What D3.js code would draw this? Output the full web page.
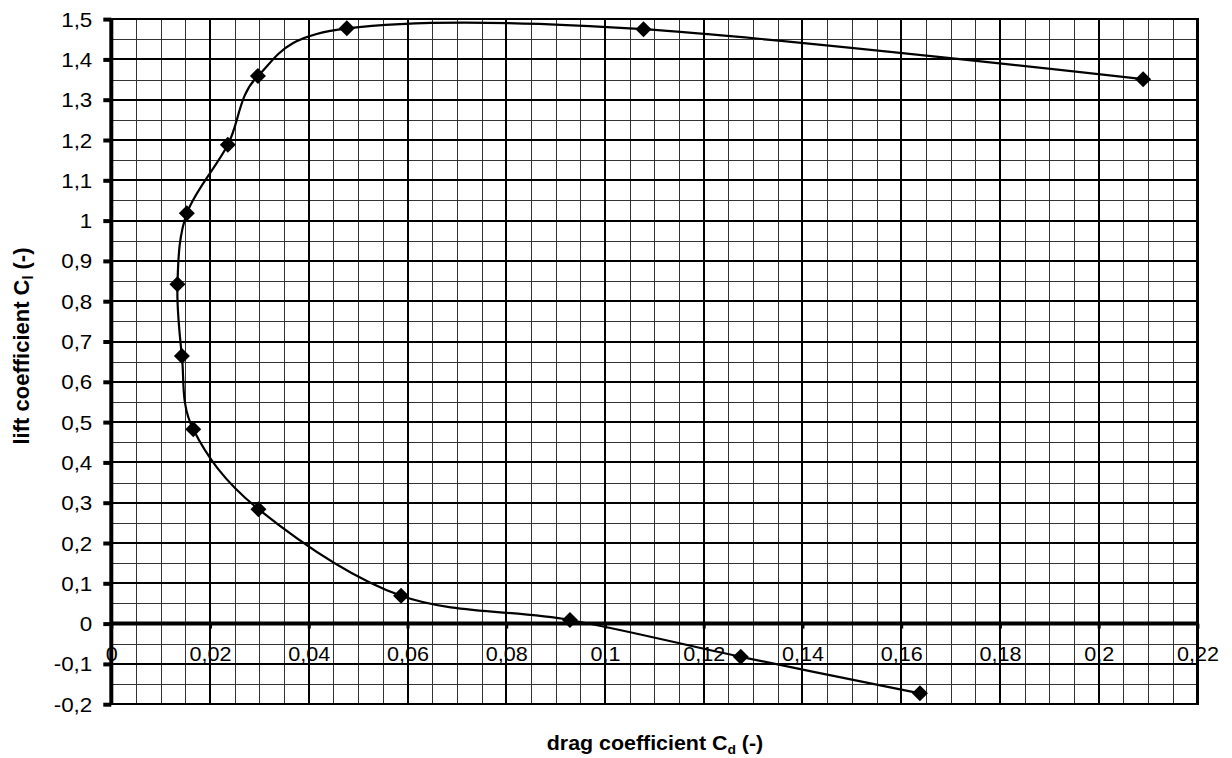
<!DOCTYPE html>
<html><head><meta charset="utf-8">
<script src="https://cdn.jsdelivr.net/npm/d3@7"></script>
<style>body{margin:0;background:#fff}svg{display:block}</style></head>
<body><svg id="c" width="1232" height="758"></svg>
<script>
// ---- data ----
const dragCd = [0.1638, 0.1275, 0.0929, 0.0587, 0.0298, 0.0166, 0.0143, 0.0134, 0.0153, 0.0236, 0.0297, 0.0477, 0.1078, 0.2090];
const liftCl = [-0.173, -0.0825, 0.009, 0.069, 0.284, 0.482, 0.664, 0.842, 1.018, 1.188, 1.359, 1.477, 1.475, 1.351];
const xTickValues = [0, 0.02, 0.04, 0.06, 0.08, 0.1, 0.12, 0.14, 0.16, 0.18, 0.2, 0.22];
const xTickLabels = ["0", "0,02", "0,04", "0,06", "0,08", "0,1", "0,12", "0,14", "0,16", "0,18", "0,2", "0,22"];
const yTickValues = [-0.2, -0.1, 0, 0.1, 0.2, 0.3, 0.4, 0.5, 0.6, 0.7, 0.8, 0.9, 1, 1.1, 1.2, 1.3, 1.4, 1.5];
const yTickLabels = ["-0,2", "-0,1", "0", "0,1", "0,2", "0,3", "0,4", "0,5", "0,6", "0,7", "0,8", "0,9", "1", "1,1", "1,2", "1,3", "1,4", "1,5"];
const xTitle = "drag coefficient C";
const xTitleSub = "d";
const yTitle = "lift coefficient C";
const yTitleSub = "l";
const titleTail = " (-)";

const svg = d3.select("#c");
const L = 111.3, R = 1197.4, T = 19.1, B = 704.2;
const x = d3.scaleLinear().domain([0, 0.22]).range([L, R]);
const y = d3.scaleLinear().domain([-0.2, 1.5]).range([B, T]);
const FONT = "'Liberation Sans', Arial, sans-serif";

svg.append("rect").attr("x", L).attr("y", T).attr("width", R - L).attr("height", B - T).attr("fill", "#fff");

// minor grid
const minorX = d3.range(0, 0.2201, 0.005);
const minorY = d3.range(-0.2, 1.5001, 0.05);
const g = svg.append("g").attr("shape-rendering", "crispEdges");
g.selectAll(".mx").data(minorX).join("line")
  .attr("x1", d => Math.round(x(d))).attr("x2", d => Math.round(x(d))).attr("y1", T).attr("y2", B)
  .attr("stroke", "#333").attr("stroke-width", 1);
g.selectAll(".my").data(minorY).join("line")
  .attr("y1", d => Math.round(y(d))).attr("y2", d => Math.round(y(d))).attr("x1", L).attr("x2", R)
  .attr("stroke", "#333").attr("stroke-width", 1);
// major grid
g.selectAll(".Mx").data(xTickValues).join("line")
  .attr("x1", d => Math.round(x(d))).attr("x2", d => Math.round(x(d))).attr("y1", T).attr("y2", B)
  .attr("stroke", "#000").attr("stroke-width", 2);
g.selectAll(".My").data(yTickValues).join("line")
  .attr("y1", d => Math.round(y(d))).attr("y2", d => Math.round(y(d))).attr("x1", L).attr("x2", R)
  .attr("stroke", "#000").attr("stroke-width", 2);
g.append("rect").attr("x", L).attr("y", T).attr("width", R - L).attr("height", B - T)
  .attr("fill", "none").attr("stroke", "#000").attr("stroke-width", 2.5);

// x axis at zero
const xAxis = d3.axisBottom(x).tickValues(xTickValues)
  .tickFormat((d, i) => xTickLabels[i]).tickSize(5).tickSizeOuter(0);
const gx = svg.append("g").attr("transform", `translate(0,${y(0)})`).call(xAxis);
gx.select(".domain").attr("stroke", "#000").attr("stroke-width", 4).attr("d", `M${L},0H${R}`);
gx.selectAll(".tick line").attr("stroke", "#000").attr("stroke-width", 3);
gx.selectAll(".tick text").attr("y", 0).attr("dy", 0)
  .attr("transform", "translate(0,37.5) scale(1.08,1)")
  .attr("font-family", FONT).attr("font-size", 20).attr("fill", "#000");

// y axis at left
const yAxis = d3.axisLeft(y).tickValues(yTickValues)
  .tickFormat((d, i) => yTickLabels[i]).tickSize(8).tickSizeOuter(0);
const gy = svg.append("g").attr("transform", `translate(${L},0)`).call(yAxis);
gy.select(".domain").attr("stroke", "#000").attr("stroke-width", 4).attr("d", `M0,${T}V${B}`);
gy.selectAll(".tick line").attr("stroke", "#000").attr("stroke-width", 4);
gy.selectAll(".tick text").attr("x", 0).attr("dy", 0)
  .attr("transform", "translate(-19,7) scale(1.12,1)")
  .attr("font-family", FONT).attr("font-size", 20).attr("fill", "#000")
  .attr("text-anchor", "end");

// curve
const pts = dragCd.map((d, i) => [x(d), y(liftCl[i])]);
svg.append("path").datum(pts)
  .attr("d", d3.line().curve(d3.curveCardinal.tension(0)))
  .attr("fill", "none").attr("stroke", "#000").attr("stroke-width", 2.2);

// markers
const diamond = d3.symbol(d3.symbolSquare, 128);
svg.selectAll(".pt").data(pts).join("path")
  .attr("d", diamond)
  .attr("transform", d => `translate(${d[0]},${d[1]}) rotate(45)`)
  .attr("fill", "#000");

// titles
const xt = svg.append("text").attr("transform", "translate(655,750) scale(1.07,1)")
  .attr("text-anchor", "middle").attr("font-family", FONT).attr("font-weight", "bold")
  .attr("font-size", 20).attr("fill", "#000");
xt.append("tspan").text(xTitle);
xt.append("tspan").attr("font-size", 13).attr("dy", 4).text(xTitleSub);
xt.append("tspan").attr("dy", -4).text(titleTail);

const yt = svg.append("text").attr("transform", "translate(29,346) rotate(-90)")
  .attr("text-anchor", "middle").attr("font-family", FONT).attr("font-weight", "bold")
  .attr("font-size", 22).attr("fill", "#000");
yt.append("tspan").text(yTitle);
yt.append("tspan").attr("font-size", 14).attr("dy", 4).text(yTitleSub);
yt.append("tspan").attr("dy", -4).text(titleTail);
</script></body></html>
